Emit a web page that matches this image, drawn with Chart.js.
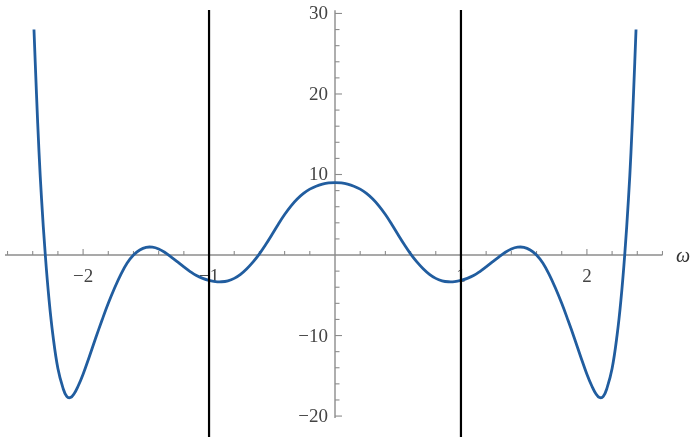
<!DOCTYPE html>
<html>
<head>
<meta charset="utf-8">
<script src="https://cdn.jsdelivr.net/npm/chart.js@4.4.1/dist/chart.umd.min.js"></script>
<style>
  html, body { margin: 0; padding: 0; background: #ffffff; }
  #plot { display: block; }
</style>
</head>
<body>
<canvas id="plot" width="699" height="441"></canvas>
<script>
// curve (omega, response), left to right
const omega = [
  -2.39, -2.37, -2.35, -2.33, -2.30, -2.27, -2.24, -2.20, -2.16, -2.13, -2.10, -2.07, -2.04,
  -2.00, -1.95, -1.90, -1.85, -1.80, -1.75, -1.70, -1.65, -1.60, -1.55, -1.50, -1.45,
  -1.40, -1.35, -1.30, -1.25, -1.20, -1.15, -1.10, -1.05, -1.00, -0.95, -0.90, -0.85,
  -0.80, -0.75, -0.70, -0.65, -0.60, -0.55, -0.50, -0.45, -0.40, -0.35, -0.30, -0.25,
  -0.20, -0.15, -0.10, -0.05,
  0,
  0.05, 0.10, 0.15, 0.20,
  0.25, 0.30, 0.35, 0.40, 0.45, 0.50, 0.55, 0.60, 0.65, 0.70, 0.75, 0.80,
  0.85, 0.90, 0.95, 1.00, 1.05, 1.10, 1.15, 1.20, 1.25, 1.30, 1.35, 1.40,
  1.45, 1.50, 1.55, 1.60, 1.65, 1.70, 1.75, 1.80, 1.85, 1.90, 1.95, 2.00,
  2.04, 2.07, 2.10, 2.13, 2.16, 2.20, 2.24, 2.27, 2.30, 2.33, 2.35, 2.37, 2.39
];
const response = [
  28.0, 20.0, 12.8, 7.0, 0.0, -5.6, -9.9, -14.1, -16.5, -17.55, -17.7, -17.2, -16.3,
  -14.8, -12.6, -10.3, -8.1, -6.0, -4.1, -2.4, -1.0, 0.0, 0.62, 0.95, 0.97,
  0.75, 0.32, -0.25, -0.85, -1.47, -2.05, -2.55, -2.90, -3.15, -3.30, -3.32, -3.20,
  -2.90, -2.40, -1.70, -0.85, 0.15, 1.30, 2.55, 3.83, 5.03, 6.08, 6.95, 7.65,
  8.18, 8.55, 8.80, 8.95,
  9.0,
  8.95, 8.80, 8.55, 8.18,
  7.65, 6.95, 6.08, 5.03, 3.83, 2.55, 1.30, 0.15, -0.85, -1.70, -2.40, -2.90,
  -3.20, -3.32, -3.30, -3.15, -2.90, -2.55, -2.05, -1.47, -0.85, -0.25, 0.32, 0.75,
  0.97, 0.95, 0.62, 0.0, -1.0, -2.4, -4.1, -6.0, -8.1, -10.3, -12.6, -14.8,
  -16.3, -17.2, -17.7, -17.55, -16.5, -14.1, -9.9, -5.6, 0.0, 7.0, 12.8, 20.0, 28.0
];

// the two vertical marker lines
const markerX = [-1, 1];

// axis labels
const xLabelValues = [-2, -1, 1, 2];
const xLabels = ['\u22122', '\u22121', '1', '2'];
const yLabelValues = [-20, -10, 10, 20, 30];
const yLabels = ['\u221220', '\u221210', '10', '20', '30'];
const xAxisName = '\u03c9';

const X_MIN = -2.62, X_MAX = 2.62;
const Y_MIN = -22.6, Y_MAX = 30.43;
const Y_AXIS_LOW = -20.25, Y_AXIS_HIGH = 30.4;

const curvePoints = omega.map((w, i) => ({ x: w, y: response[i] }));

const markerSets = markerX.map(x => ({
  data: [{ x: x, y: Y_MIN }, { x: x, y: Y_MAX }],
  showLine: true,
  borderColor: '#000000',
  borderWidth: 2.2,
  pointRadius: 0,
  order: 0
}));

// Mathematica-like axes crossing at the origin
const originAxes = {
  id: 'originAxes',
  beforeDatasetsDraw(chart) {
    const ctx = chart.ctx;
    const xs = chart.scales.x;
    const ys = chart.scales.y;
    const x0 = xs.getPixelForValue(0);
    const y0 = ys.getPixelForValue(0);

    ctx.save();
    ctx.strokeStyle = '#8c8c8c';
    ctx.lineWidth = 1.4;

    // x axis
    ctx.beginPath();
    ctx.moveTo(xs.getPixelForValue(-2.62), y0);
    ctx.lineTo(xs.getPixelForValue(2.6), y0);
    ctx.stroke();

    // y axis
    ctx.beginPath();
    ctx.moveTo(x0, ys.getPixelForValue(Y_AXIS_LOW));
    ctx.lineTo(x0, ys.getPixelForValue(Y_AXIS_HIGH));
    ctx.stroke();

    // x ticks every 0.2, pointing up
    ctx.lineWidth = 1.1;
    for (let k = -13; k <= 13; k++) {
      if (k === 0) continue;
      const px = xs.getPixelForValue(k * 0.2);
      const len = (k % 5 === 0) ? 6 : 4;
      ctx.beginPath();
      ctx.moveTo(px, y0);
      ctx.lineTo(px, y0 - len);
      ctx.stroke();
    }

    // y ticks every 2, pointing right
    for (let k = -10; k <= 15; k++) {
      if (k === 0) continue;
      const py = ys.getPixelForValue(k * 2);
      const len = (k % 5 === 0) ? 7 : 4.5;
      ctx.beginPath();
      ctx.moveTo(x0, py);
      ctx.lineTo(x0 + len, py);
      ctx.stroke();
    }

    ctx.fillStyle = '#444444';
    ctx.font = '19px "Liberation Serif", "DejaVu Serif", serif';

    ctx.textAlign = 'center';
    ctx.textBaseline = 'middle';
    xLabelValues.forEach((v, i) => {
      ctx.fillText(xLabels[i], xs.getPixelForValue(v), y0 + 22);
    });

    ctx.textAlign = 'right';
    yLabelValues.forEach((v, i) => {
      ctx.fillText(yLabels[i], x0 - 7, ys.getPixelForValue(v) + 1);
    });

    ctx.font = 'italic 20px "Liberation Serif", "DejaVu Serif", serif';
    ctx.textAlign = 'left';
    ctx.fillStyle = '#333333';
    ctx.fillText(xAxisName, chart.chartArea.right + 11, y0 + 2);

    ctx.restore();
  }
};

new Chart(document.getElementById('plot'), {
  type: 'scatter',
  data: {
    datasets: [
      {
        data: curvePoints,
        showLine: true,
        borderColor: '#215d9f',
        borderWidth: 2.8,
        pointRadius: 0,
        tension: 0.4,
        order: 1
      },
      ...markerSets
    ]
  },
  options: {
    responsive: false,
    animation: false,
    devicePixelRatio: 1,
    layout: {
      padding: { left: 5, right: 34, top: 10, bottom: 4 }
    },
    plugins: {
      legend: { display: false },
      tooltip: { enabled: false }
    },
    scales: {
      x: { type: 'linear', min: X_MIN, max: X_MAX, display: false },
      y: { type: 'linear', min: Y_MIN, max: Y_MAX, display: false }
    }
  },
  plugins: [originAxes]
});
</script>
</body>
</html>
